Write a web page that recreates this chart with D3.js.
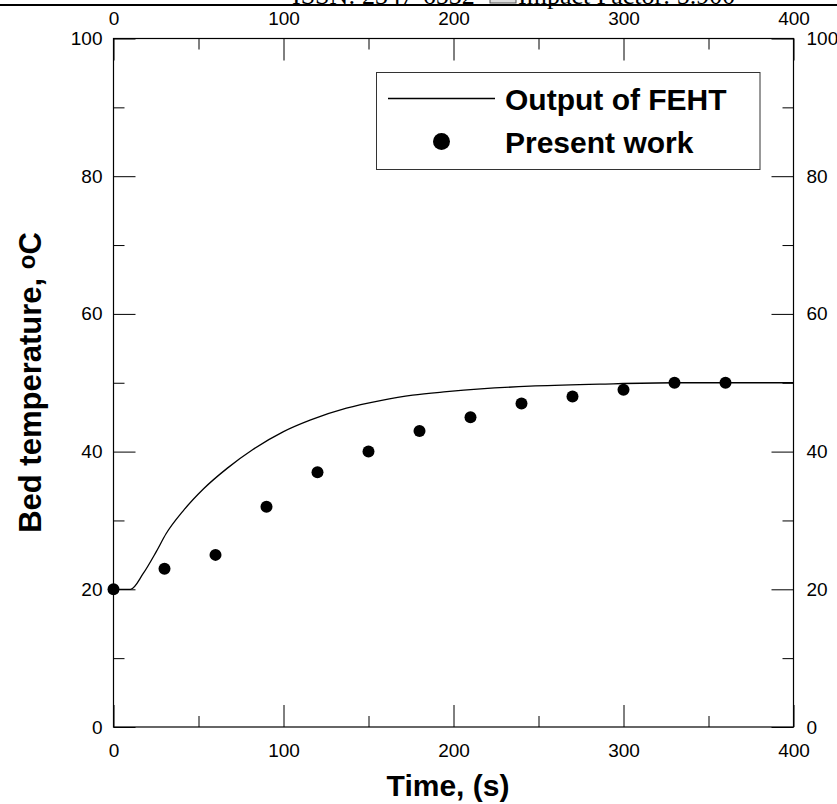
<!DOCTYPE html>
<html>
<head>
<meta charset="utf-8">
<script src="https://cdn.jsdelivr.net/npm/d3@7"></script>
<style>
  body { margin: 0; background: #fff; }
  svg { display: block; font-family: 'Liberation Sans', Arial, sans-serif; }
</style>
</head>
<body>
<div id="chart"></div>
<script>
// FEHT model output (line)
const fehtTime = [0, 10, 17.5, 25, 31, 41, 53, 67, 82, 100, 116, 137, 157, 176, 196, 216, 245, 286, 330, 400]
const fehtTemp = [20, 20, 22.3, 25.4, 28.1, 31.4, 34.6, 37.6, 40.3, 42.9, 44.6, 46.3, 47.4, 48.2, 48.7, 49.1, 49.5, 49.8, 50, 50]

// present work (dots)
const workTime = [0, 30, 60, 90, 120, 150, 180, 210, 240, 270, 300, 330, 360]
const workTemp = [20, 23, 25, 32, 37, 40, 43, 45, 47, 48, 49, 50, 50]

const xMajor = [0, 100, 200, 300, 400]
const xMinor = [50, 150, 250, 350]
const yMajor = [0, 20, 40, 60, 80, 100]
const yMinor = [10, 30, 50, 70, 90]

const legendLabels = ['Output of FEHT', 'Present work']

const width = 837
const height = 804
const plotLeft = 113.5, plotRight = 793.5, plotTop = 38.5, plotBottom = 727

const svg = d3.select('#chart')
  .append('svg')
  .attr('width', width)
  .attr('height', height)
  .attr('viewBox', '0 0 ' + width + ' ' + height)

const x = d3.scaleLinear().domain([0, 400]).range([plotLeft, plotRight])
const y = d3.scaleLinear().domain([0, 100]).range([plotBottom, plotTop])

// journal header, cut off at the top edge
svg.append('line')
  .attr('x1', 0).attr('x2', width)
  .attr('y1', 5).attr('y2', 5)
  .attr('stroke', '#000').attr('stroke-width', 2)
const header = svg.append('g')
  .attr('font-family', "'Liberation Serif', 'Times New Roman', serif")
  .attr('font-size', 26)
header.append('text').attr('x', 292).attr('y', 4).text('ISSN: 2347-6532')
header.append('rect')
  .attr('x', 490).attr('y', -12).attr('width', 26).attr('height', 15)
  .attr('fill', '#ddd').attr('stroke', '#555')
header.append('text').attr('x', 518).attr('y', 4).text('Impact Factor: 5.900')

// axes: major + minor ticks pointing inward
function addAxis(axisFn, scale, transform, values, size, pad, labels) {
  const g = svg.append('g')
    .attr('transform', transform)
    .call(axisFn(scale).tickValues(values).tickSizeInner(-size).tickSizeOuter(0)
      .tickPadding(pad).tickFormat(labels ? d3.format('d') : ''))
  g.select('.domain').remove()
  g.selectAll('line').attr('stroke', '#000')
  g.selectAll('text').attr('font-size', 19).attr('fill', '#000')
  g.attr('font-family', null)
  return g
}

addAxis(d3.axisBottom, x, `translate(0,${plotBottom})`, xMajor, 22, 17, true)
addAxis(d3.axisBottom, x, `translate(0,${plotBottom})`, xMinor, 11, 17, false)
addAxis(d3.axisTop, x, `translate(0,${plotTop})`, xMajor, 22, 13.5, true)
addAxis(d3.axisTop, x, `translate(0,${plotTop})`, xMinor, 11, 13.5, false)
addAxis(d3.axisLeft, y, `translate(${plotLeft},0)`, yMajor, 22, 11, true)
addAxis(d3.axisLeft, y, `translate(${plotLeft},0)`, yMinor, 11, 11, false)
addAxis(d3.axisRight, y, `translate(${plotRight},0)`, yMajor, 22, 13, true)
addAxis(d3.axisRight, y, `translate(${plotRight},0)`, yMinor, 11, 13, false)

svg.append('rect')
  .attr('x', plotLeft).attr('y', plotTop)
  .attr('width', plotRight - plotLeft).attr('height', plotBottom - plotTop)
  .attr('fill', 'none').attr('stroke', '#000').attr('stroke-width', 1.2)

// axis titles
svg.append('text')
  .attr('x', 448).attr('y', 796)
  .attr('text-anchor', 'middle')
  .attr('font-size', 30).attr('font-weight', 'bold')
  .text('Time, (s)')

const yTitle = svg.append('text')
  .attr('transform', 'translate(41,382.5) rotate(-90)')
  .attr('text-anchor', 'middle')
  .attr('font-size', 31).attr('font-weight', 'bold')
yTitle.append('tspan').text('Bed temperature, ')
yTitle.append('tspan').attr('font-size', 24).attr('dy', -6).text('o')
yTitle.append('tspan').attr('dy', 6).text('C')

// FEHT curve
const lineData = fehtTime.map((t, i) => ({ t, v: fehtTemp[i] }))
svg.append('path')
  .datum(lineData)
  .attr('fill', 'none')
  .attr('stroke', '#000')
  .attr('stroke-width', 1.3)
  .attr('d', d3.line().x((d) => x(d.t)).y((d) => y(d.v)).curve(d3.curveMonotoneX))

// present work dots
svg.append('g')
  .selectAll('circle')
  .data(workTime.map((t, i) => ({ t, v: workTemp[i] })))
  .enter()
  .append('circle')
  .attr('cx', (d) => x(d.t))
  .attr('cy', (d) => y(d.v))
  .attr('r', 6)
  .attr('fill', '#000')

// legend
const legend = svg.append('g')
legend.append('rect')
  .attr('x', 376.5).attr('y', 72.5).attr('width', 383.5).attr('height', 97)
  .attr('fill', '#fff').attr('stroke', '#333').attr('stroke-width', 1)
legend.append('line')
  .attr('x1', 388).attr('x2', 495).attr('y1', 98.5).attr('y2', 98.5)
  .attr('stroke', '#000').attr('stroke-width', 1.3)
legend.append('circle')
  .attr('cx', 441.5).attr('cy', 141.5).attr('r', 8.5).attr('fill', '#000')
legend.selectAll('.legend-label')
  .data(legendLabels)
  .enter()
  .append('text')
  .attr('class', 'legend-label')
  .attr('x', 505)
  .attr('y', (d, i) => (i === 0 ? 109.5 : 152.5))
  .attr('font-size', 30).attr('font-weight', 'bold')
  .text((d) => d)
</script>
</body>
</html>
